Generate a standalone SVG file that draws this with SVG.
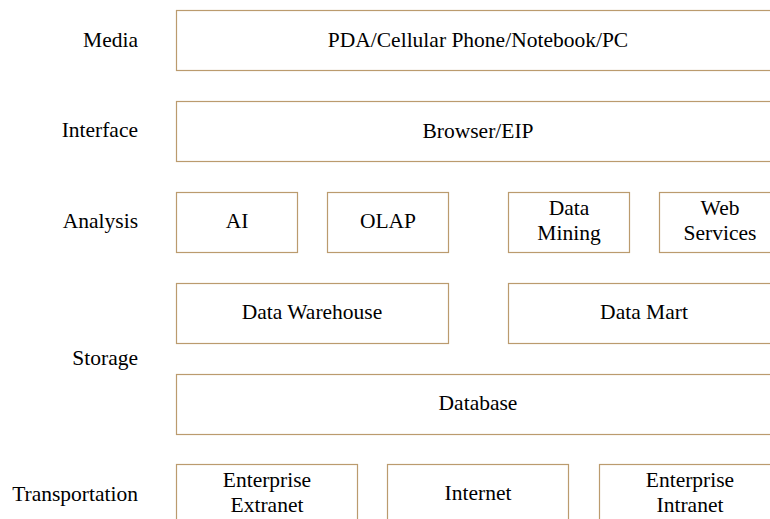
<svg xmlns="http://www.w3.org/2000/svg" width="770" height="519" viewBox="0 0 770 519" font-family="Liberation Serif, Times New Roman, serif" font-size="21.5">
<style>
.b{fill:#fff;stroke:#bb9b6e;stroke-width:1.2}
.l{text-anchor:end}
.c{text-anchor:middle}
</style>
<rect width="770" height="519" fill="#fff"/>
<g id="labels">
<text class="l" x="138" y="47">Media</text>
<text class="l" x="138" y="137">Interface</text>
<text class="l" x="138" y="228">Analysis</text>
<text class="l" x="138" y="365">Storage</text>
<text class="l" x="138" y="501">Transportation</text>
</g>
<g id="media"><rect class="b" x="176.5" y="10.5" width="610" height="60"/><text class="c" x="478" y="47">PDA/Cellular Phone/Notebook/PC</text></g>
<g id="interface"><rect class="b" x="176.5" y="101.5" width="610" height="60"/><text class="c" x="478" y="138">Browser/EIP</text></g>
<g id="ai"><rect class="b" x="176.5" y="192.5" width="121" height="60"/><text class="c" x="237" y="228">AI</text></g>
<g id="olap"><rect class="b" x="327.5" y="192.5" width="121" height="60"/><text class="c" x="388" y="228">OLAP</text></g>
<g id="datamining"><rect class="b" x="508.5" y="192.5" width="121" height="60"/><text class="c" x="569" y="215">Data</text><text class="c" x="569" y="240">Mining</text></g>
<g id="webservices"><rect class="b" x="659.5" y="192.5" width="121" height="60"/><text class="c" x="720" y="215">Web</text><text class="c" x="720" y="240">Services</text></g>
<g id="datawarehouse"><rect class="b" x="176.5" y="283.5" width="272" height="60"/><text class="c" x="312" y="319">Data Warehouse</text></g>
<g id="datamart"><rect class="b" x="508.5" y="283.5" width="280" height="60"/><text class="c" x="644" y="319">Data Mart</text></g>
<g id="database"><rect class="b" x="176.5" y="374.5" width="610" height="60"/><text class="c" x="478" y="410">Database</text></g>
<g id="extranet"><rect class="b" x="176.5" y="464.5" width="181" height="70"/><text class="c" x="267" y="487">Enterprise</text><text class="c" x="267" y="512">Extranet</text></g>
<g id="internet"><rect class="b" x="387.5" y="464.5" width="181" height="70"/><text class="c" x="478" y="500">Internet</text></g>
<g id="intranet"><rect class="b" x="599.5" y="464.5" width="181" height="70"/><text class="c" x="690" y="487">Enterprise</text><text class="c" x="690" y="512">Intranet</text></g>
<g id="connectors"></g>
</svg>
